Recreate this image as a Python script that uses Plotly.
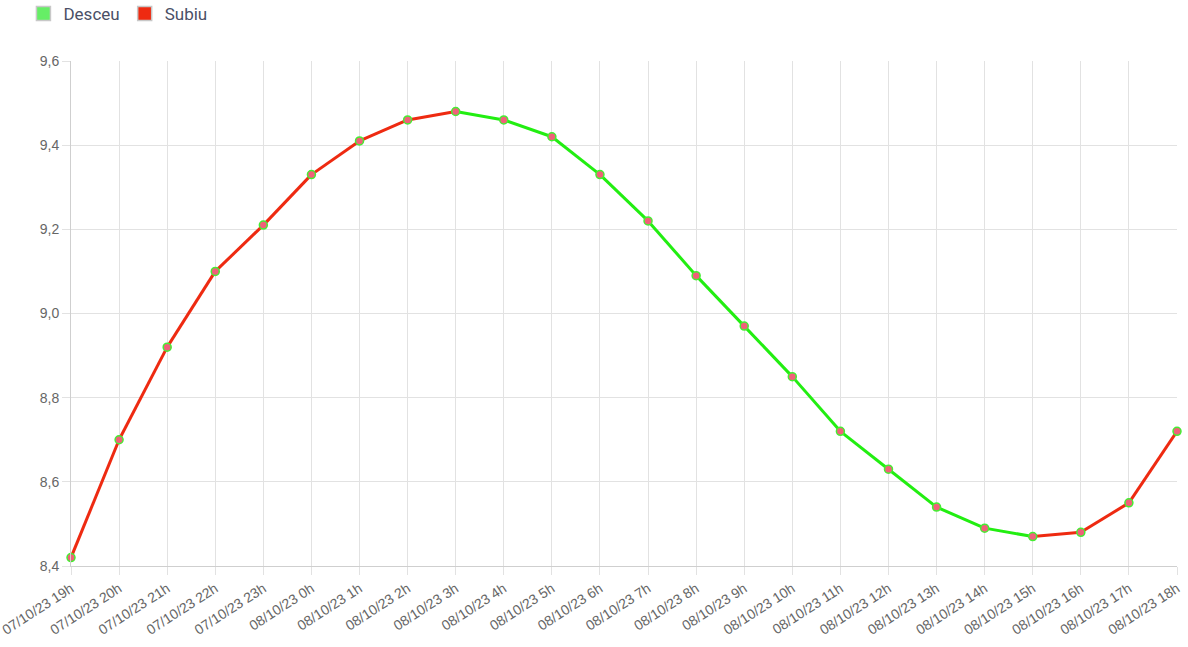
import plotly.graph_objects as go

labels = ["07/10/23 19h", "07/10/23 20h", "07/10/23 21h", "07/10/23 22h", "07/10/23 23h",
          "08/10/23 0h", "08/10/23 1h", "08/10/23 2h", "08/10/23 3h", "08/10/23 4h",
          "08/10/23 5h", "08/10/23 6h", "08/10/23 7h", "08/10/23 8h", "08/10/23 9h",
          "08/10/23 10h", "08/10/23 11h", "08/10/23 12h", "08/10/23 13h", "08/10/23 14h",
          "08/10/23 15h", "08/10/23 16h", "08/10/23 17h", "08/10/23 18h"]
values = [8.42, 8.70, 8.92, 9.10, 9.21, 9.33, 9.41, 9.46, 9.48, 9.46, 9.42, 9.33, 9.22,
          9.09, 8.97, 8.85, 8.72, 8.63, 8.54, 8.49, 8.47, 8.48, 8.55, 8.72]
series_names = ["Desceu", "Subiu"]

GREEN = "#22ee11"
RED = "#ee2a11"

fig = go.Figure()

# segments coloured by direction
for i in range(len(values) - 1):
    up = values[i + 1] >= values[i]
    fig.add_trace(go.Scatter(
        x=[labels[i], labels[i + 1]], y=[values[i], values[i + 1]],
        mode="lines", line=dict(color=RED if up else GREEN, width=3),
        showlegend=False, hoverinfo="skip", cliponaxis=False))

fig.add_trace(go.Scatter(
    x=labels, y=values, mode="markers",
    marker=dict(size=8, color="#f0607a", line=dict(color="#44ee33", width=1.5)),
    showlegend=False, cliponaxis=False))

# legend entries
fig.add_trace(go.Scatter(x=[None], y=[None], mode="markers", name=series_names[0],
                         marker=dict(symbol="square", size=14, color="#66ee66",
                                     line=dict(color="#c8c8c8", width=1.5))))
fig.add_trace(go.Scatter(x=[None], y=[None], mode="markers", name=series_names[1],
                         marker=dict(symbol="square", size=14, color="#ee2a11",
                                     line=dict(color="#c8c8c8", width=1.5))))

fig.update_layout(
    width=1188, height=647,
    margin=dict(l=71, r=11, t=61, b=81, autoexpand=False),
    paper_bgcolor="white", plot_bgcolor="white",
    separators=", ",
    font=dict(family="Arial, Liberation Sans, sans-serif", color="#666", size=14),
    showlegend=True,
    legend=dict(orientation="h", xref="paper", yref="paper", x=-0.043, y=1.129,
                xanchor="left", yanchor="top", bgcolor="rgba(0,0,0,0)",
                font=dict(family="Roboto, sans-serif", size=17, color="#4a4f66"),
                itemwidth=30, tracegroupgap=0, traceorder="normal"),
    xaxis=dict(type="category", categoryorder="array", categoryarray=labels,
               range=[0, len(labels) - 1], showgrid=True, gridcolor="#e2e2e2",
               gridwidth=1, tickangle=-33, ticks="outside", ticklen=8,
               tickcolor="#e2e2e2", showline=True, linecolor="#cfcfcf",
               tickfont=dict(size=14, color="#666"), zeroline=False, automargin=False),
    yaxis=dict(range=[8.4, 9.6], dtick=0.2, tickformat=".1f", showgrid=True,
               gridcolor="#e2e2e2", ticks="outside", ticklen=8, tickcolor="#e2e2e2",
               showline=True, linecolor="#cfcfcf", zeroline=False, automargin=False,
               tickfont=dict(size=14, color="#666")),
)

fig.write_html("out.html", config={"displayModeBar": False},
               post_script="document.body.style.margin='0';")
